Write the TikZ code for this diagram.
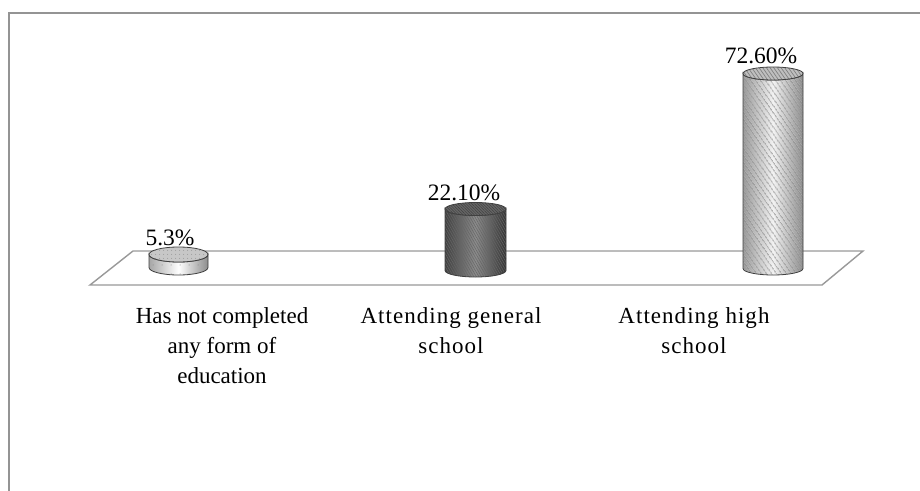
\documentclass[tikz,border=0pt]{standalone}
\usepackage{fontspec}
\setmainfont{Liberation Serif}
\newfontfamily\spacedserif[LetterSpace=4.5]{Liberation Serif}
\usetikzlibrary{patterns.meta}
\begin{document}
\begin{tikzpicture}[x=1pt,y=-1pt,
  frameline/.style={draw=black!42,line width=2pt},
  floorline/.style={draw=black!40,line width=1.4pt,line join=miter},
  cyledge/.style={draw=black!75,line width=0.8pt},
  pct/.style={font=\fontsize{23.5}{28}\selectfont,anchor=base,inner sep=0pt},
  catlabel/.style={font=\fontsize{23}{30}\selectfont,align=center,anchor=north,inner sep=0pt}]
\useasboundingbox (0,0) rectangle (920,490);
% frame
\coordinate (ftl) at (9,13);
\coordinate (fbl) at (9,491);
\coordinate (ftr) at (921,13);
\draw[frameline] (fbl) -- (ftl) -- (ftr);
% floor
\coordinate (fa) at (90,285);
\coordinate (fb) at (133,251);
\coordinate (fc) at (863,251);
\coordinate (fd) at (822,285);
\draw[floorline,fill=white] (fa) -- (fb) -- (fc) -- (fd) -- cycle;
\def\cylbody#1#2#3#4#5{(#1-#2,#4) -- (#1-#2,#5) arc[start angle=180,end angle=360,x radius=#2,y radius=-#3] -- (#1+#2,#4) arc[start angle=0,end angle=180,x radius=#2,y radius=#3] -- cycle}
\def\cyltop#1#2#3#4{(#1,#4) ellipse[x radius=#2,y radius=#3]}
% c1
\shade[left color=black!35,right color=black!45,middle color=white] \cylbody{178.5}{29.5}{7.5}{254.5}{267.5};
\fill[pattern={Dots[distance=9pt,radius=0.5pt]},pattern color=black!50] \cylbody{178.5}{29.5}{7.5}{254.5}{267.5};
\draw[cyledge] \cylbody{178.5}{29.5}{7.5}{254.5}{267.5};
\fill[black!22] \cyltop{178.5}{29.5}{7.5}{254.5};
\fill[pattern={Dots[distance=4pt,radius=0.5pt]},pattern color=black!50] \cyltop{178.5}{29.5}{7.5}{254.5};
\draw[cyledge] \cyltop{178.5}{29.5}{7.5}{254.5};
% c2
\shade[left color=black!75,right color=black!80,middle color=black!45] \cylbody{475.5}{30.5}{6.5}{209}{270.5};
\fill[pattern={Lines[angle=-60,distance=2.2pt,line width=0.5pt]},pattern color=black!60] \cylbody{475.5}{30.5}{6.5}{209}{270.5};
\draw[cyledge] \cylbody{475.5}{30.5}{6.5}{209}{270.5};
\fill[black!60] \cyltop{475.5}{30.5}{6.5}{209};
\fill[pattern={Lines[angle=-45,distance=2pt,line width=0.5pt]},pattern color=black!75] \cyltop{475.5}{30.5}{6.5}{209};
\draw[cyledge] \cyltop{475.5}{30.5}{6.5}{209};
% c3
\shade[left color=black!40,right color=black!45,middle color=black!5] \cylbody{773}{30}{6.5}{73.5}{268.5};
\fill[pattern={Lines[angle=-55,distance=4pt,line width=1pt]},pattern color=black!45] \cylbody{773}{30}{6.5}{73.5}{268.5};
\draw[cyledge] \cylbody{773}{30}{6.5}{73.5}{268.5};
\fill[black!25] \cyltop{773}{30}{6.5}{73.5};
\fill[pattern={Lines[angle=-55,distance=3pt,line width=0.7pt]},pattern color=black!50] \cyltop{773}{30}{6.5}{73.5};
\draw[cyledge] \cyltop{773}{30}{6.5}{73.5};
% percent labels
\node[pct] (p1) at (170,245) {5.3\%};
\node[pct] (p2) at (464,200) {22.10\%};
\node[pct] (p3) at (761,63) {72.60\%};
% category labels
\node[catlabel] (l1) at (222,307.5) {Has not completed\\any form of\\education};
\node[catlabel,font=\fontsize{23}{30}\spacedserif] (l2) at (451,307.5) {Attending general\\school};
\node[catlabel,font=\fontsize{23}{30}\spacedserif] (l3) at (694,307.5) {Attending high\\school};
\end{tikzpicture}
\end{document}
